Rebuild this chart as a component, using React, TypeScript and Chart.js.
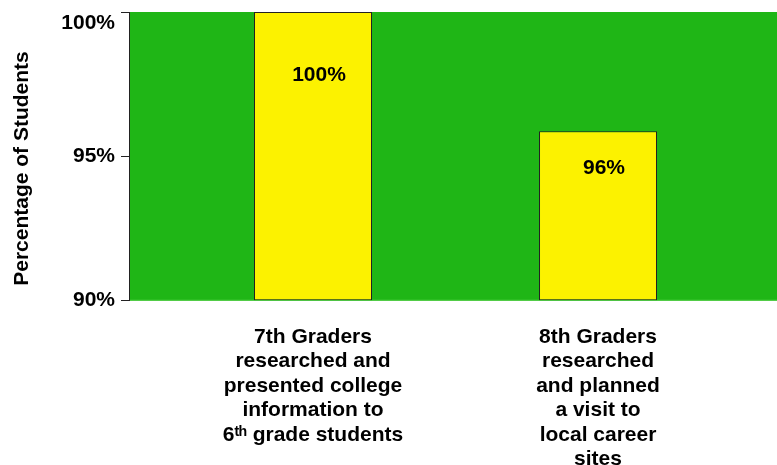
import React, { useEffect, useRef } from "react";
import { Chart, registerables } from "chart.js";

Chart.register(...registerables);

const categories: string[][] = [
  ["7th Graders", "researched and", "presented college", "information to", "6ᵗʰ grade students"],
  ["8th Graders", "researched", "and planned", "a visit to", "local career", "sites"],
];
const values: number[] = [100, 95.87];
const yTicks: number[] = [90, 95, 100];
const yTitle = "Percentage of Students";

const FONT = "'Liberation Sans', Arial, Helvetica, sans-serif";
const GREEN = "#1fb616";
const YELLOW = "#fcf200";

const bgPlugin = {
  id: "plotBg",
  beforeDraw(chart: any) {
    const { ctx, chartArea } = chart;
    ctx.save();
    ctx.fillStyle = GREEN;
    ctx.fillRect(chartArea.left, chartArea.top, chartArea.right - chartArea.left, chartArea.bottom - chartArea.top);
    ctx.fillStyle = "#4ccc40";
    ctx.fillRect(chartArea.left, chartArea.bottom - 1, chartArea.right - chartArea.left, 1);
    ctx.restore();
  },
};

const labelPlugin = {
  id: "barLabels",
  afterDatasetsDraw(chart: any) {
    const { ctx, chartArea } = chart;
    const meta = chart.getDatasetMeta(0);
    ctx.save();
    ctx.fillStyle = "#000";
    ctx.font = `bold 21px ${FONT}`;
    ctx.textAlign = "center";
    ctx.textBaseline = "middle";
    meta.data.forEach((bar: any, i: number) => {
      const top = Math.max(bar.y, chartArea.top);
      const y = top + 0.22 * (chartArea.bottom - top);
      ctx.fillText(Math.round(values[i]) + "%", bar.x + 6, y);
    });
    // y-axis title
    ctx.translate(22, 168.5);
    ctx.rotate(-Math.PI / 2);
    ctx.fillText(yTitle, 0, 0);
    ctx.restore();
  },
};

export default function App() {
  const ref = useRef<HTMLCanvasElement>(null);
  useEffect(() => {
    if (!ref.current) return;
    const chart = new Chart(ref.current, {
      type: "bar",
      data: {
        datasets: [
          {
            data: values.map((v, i) => ({ x: i, y: v })),
            base: 90,
            backgroundColor: YELLOW,
            borderColor: "#222",
            borderWidth: 1,
            borderSkipped: false,
            barPercentage: 0.414,
            categoryPercentage: 1,
          },
        ],
      },
      options: {
        responsive: false,
        animation: false,
        events: [],
        layout: { padding: { top: 12, right: 0, left: 0, bottom: 0 } },
        plugins: { legend: { display: false }, tooltip: { enabled: false } },
        scales: {
          x: {
            type: "linear",
            offset: false,
            min: -0.6456,
            max: 1.628,
            grid: { display: false, drawTicks: false, offset: false },
            border: { display: false },
            afterBuildTicks: (scale: any) => {
              scale.ticks = categories.map((_, i) => ({ value: i }));
            },
            afterFit: (scale: any) => {
              scale.height = 164.3;
              scale.paddingLeft = 0;
              scale.paddingRight = 0;
            },
            ticks: {
              autoSkip: false,
              maxRotation: 0,
              minRotation: 0,
              padding: 24,
              color: "#000",
              font: { family: FONT, size: 21, weight: "bold", lineHeight: 1.167 },
              callback: (v: any) => categories[v] ?? "",
            },
          },
          y: {
            min: 90,
            max: 100,
            afterBuildTicks: (scale: any) => {
              scale.ticks = yTicks.map((v) => ({ value: v }));
            },
            afterFit: (scale: any) => {
              scale.width = 129;
              scale.paddingTop = 0;
              scale.paddingBottom = 0;
            },
            grid: { drawOnChartArea: false, tickLength: 8, tickColor: "#222" },
            border: { display: true, color: "#222", width: 1 },
            ticks: {
              padding: 6,
              color: "#000",
              font: { family: FONT, size: 21, weight: "bold", lineHeight: 1.1 },
              callback: (v: any) => (v === 100 ? ["", v + "%"] : v + "%"),
            },
          },
        },
      },
      plugins: [bgPlugin, labelPlugin],
    } as any);
    return () => chart.destroy();
  }, []);
  return (
    <div style={{ position: "absolute", left: 0, top: 0, width: 777, height: 465 }}>
      <canvas ref={ref} width={777} height={465} style={{ display: "block" }} />
    </div>
  );
}
